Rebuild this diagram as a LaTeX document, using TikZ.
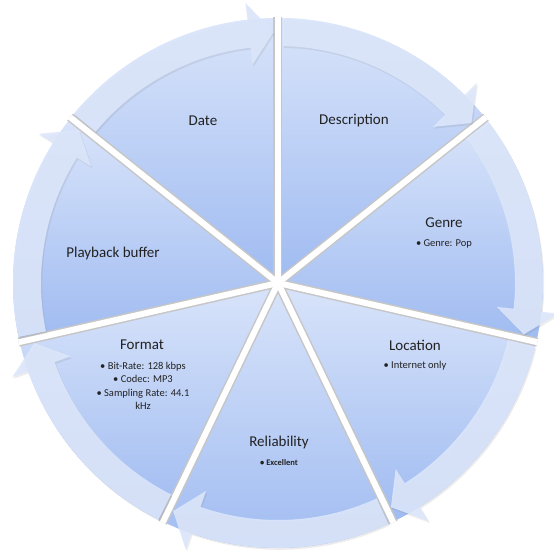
\documentclass[tikz,border=0pt]{standalone}
\usepackage{fontspec}
\setmainfont{Carlito}
\usepackage{xcolor}
\definecolor{wedgetop}{HTML}{D9E4FA}
\definecolor{wedgebot}{HTML}{9FBBF1}
\definecolor{ringblue}{HTML}{DDE7FB}
\definecolor{textgray}{HTML}{222222}

\begin{document}
\begin{tikzpicture}[x=1pt, y=1pt,
  wedge/.style={top color=wedgetop, bottom color=wedgebot},
  gapshade/.style={draw=gray!45, line width=9pt},
  gapline/.style={draw=white, line width=6pt},
  ringshadow/.style={fill=black!60, fill opacity=0.12},
  ringarrow/.style={fill=ringblue, fill opacity=0.88},
  title/.style={text=textgray, font=\fontsize{15}{18}\selectfont},
  item/.style={text=textgray, align=center, font=\fontsize{10.5}{13.5}\selectfont}]
  \useasboundingbox (-278,-274) rectangle (276,283);

  % === WEDGES ===
  \foreach \a in {90, 38.57, -12.86, -64.29, -115.71, -167.14, 141.43} {
    \path[wedge] (0,0) -- (\a:265) arc[start angle=\a, delta angle=-51.43, radius=265pt] -- cycle;
  }

  % gaps between the wedges
  \foreach \a in {90, 38.57, -12.86, -64.29, -115.71, -167.14, 141.43}
    \draw[gapshade] (0,0) -- (\a:266);
  \foreach \a in {90, 38.57, -12.86, -64.29, -115.71, -167.14, 141.43}
    \draw[gapline] (0,0) -- (\a:266);

  % === RING OF ARROWS ===
  \foreach \a in {90, 38.57, -12.86, -64.29, -115.71, -167.14, 141.43} {
    \fill[ringshadow, shift={(1.2,-1.8)}] (\a-1.1:265) arc[start angle=\a-1.1, delta angle=-43.7, radius=265pt]
      -- (\a-44.8:282) -- (\a-50.4:251) -- (\a-44.8:220) -- (\a-44.8:237)
      arc[start angle=\a-44.8, delta angle=43.7, radius=237pt] -- cycle;
    \fill[ringarrow] (\a-1.1:265) arc[start angle=\a-1.1, delta angle=-43.7, radius=265pt]
      -- (\a-44.8:282) -- (\a-50.4:251) -- (\a-44.8:220) -- (\a-44.8:237)
      arc[start angle=\a-44.8, delta angle=43.7, radius=237pt] -- cycle;
  }

  % === LABELS ===
  \node[title] (date) at (-75,162) {Date};
  \node[title] (descr) at (76,162) {Description};

  \node[title] (genre) at (166,60) {Genre};
  \node[item] (genreitem) at (166,39) {\textbullet\ Genre: Pop};

  \node[title] (location) at (137,-62) {Location};
  \node[item] (locitem) at (137,-83) {\textbullet\ Internet only};

  \node[title] (reliab) at (1,-159) {Reliability};
  \node[item, font=\fontsize{8.5}{10}\selectfont\bfseries] (relitem) at (1,-180) {\textbullet\ Excellent};

  \node[title] (format) at (-136,-62) {Format};
  \node[item] (formatitems) at (-135,-103) {\textbullet\ Bit-Rate: 128 kbps\\ \textbullet\ Codec: MP3\\
    \textbullet\ Sampling Rate: 44.1\\ kHz};

  \node[title] (playback) at (-165,29) {Playback buffer};
\end{tikzpicture}
\end{document}
